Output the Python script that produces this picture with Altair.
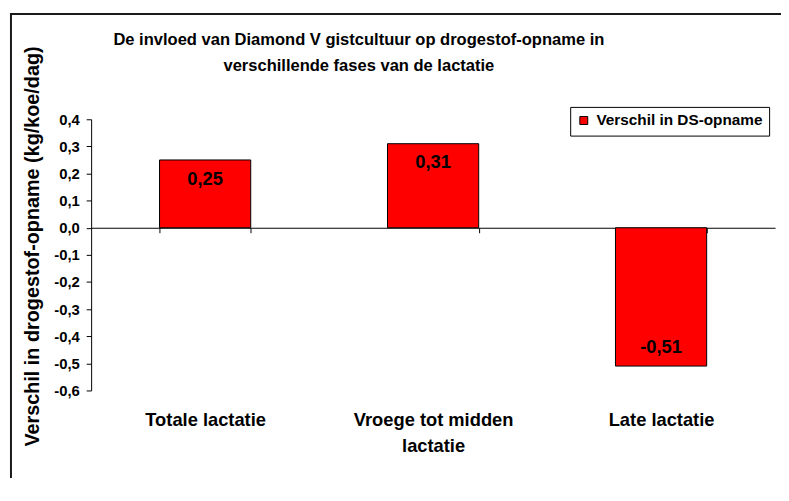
import altair as alt
import pandas as pd

# ---- data ----
categories = ["Totale lactatie", "Vroege tot midden\nlactatie", "Late lactatie"]
values = [0.25, 0.31, -0.51]
series_name = "Verschil in DS-opname"
y_ticks = [-0.6, -0.5, -0.4, -0.3, -0.2, -0.1, 0.0, 0.1, 0.2, 0.3, 0.4]
title_lines = [
    "De invloed van Diamond V gistcultuur op drogestof-opname in",
    "verschillende fases van de lactatie",
]
y_title = "Verschil in drogestof-opname (kg/koe/dag)"

df = pd.DataFrame({"fase": categories, "verschil": values, "reeks": series_name})

FONT = "Liberation Sans"
W, H = 691, 274
ZERO_FROM_BOTTOM = H * 0.6 / 1.0

x_enc = alt.X(
    "fase:N",
    sort=categories,
    scale=alt.Scale(paddingInner=0.6, paddingOuter=0.3),
    axis=alt.Axis(
        title=None,
        orient="bottom",
        offset=-ZERO_FROM_BOTTOM,
        domainColor="black",
        domainWidth=1,
        tickColor="black",
        tickSize=5,
        tickBand="extent",
        labelAngle=0,
        labelFont=FONT,
        labelFontSize=18.5,
        labelFontWeight="bold",
        labelColor="black",
        labelPadding=180,
        labelLimit=300,
        labelLineHeight=26,
        labelOverlap=False,
        labelExpr="split(datum.label, '\\n')",
        grid=False,
    ),
)

y_enc = alt.Y(
    "verschil:Q",
    scale=alt.Scale(domain=[-0.6, 0.4], nice=False),
    axis=alt.Axis(
        values=y_ticks,
        tickCount=11,
        labelExpr="replace(replace(format(datum.value, '.1f'), '.', ','), '\u2212', '-')",
        labelOverlap=False,
        labelBound=False,
        grid=False,
        domainColor="black",
        tickColor="black",
        tickSize=5,
        labelPadding=7,
        labelFont=FONT,
        labelFontSize=15,
        labelFontWeight="bold",
        labelColor="black",
        title=y_title,
        titleFont=FONT,
        titleFontSize=20,
        titleFontWeight="bold",
        titleColor="black",
        titleAngle=270,
        titleX=-59,
        titleY=128,
        titleAlign="center",
        titleBaseline="middle",
    ),
)

base = alt.Chart(df).transform_calculate(
    label="replace(replace(format(datum.verschil, '.2f'), '.', ','), '\u2212', '-')"
)

bars = base.mark_bar(stroke="black", strokeWidth=1).encode(
    x=x_enc,
    y=y_enc,
    color=alt.Color(
        "reeks:N",
        scale=alt.Scale(range=["#FF0000"]),
        legend=alt.Legend(
            title=None,
            orient="none",
            legendX=484,
            legendY=-12.5,
            strokeColor="black",
            fillColor="white",
            padding=6,
            labelFont=FONT,
            labelFontSize=15.5,
            labelFontWeight="bold",
            labelColor="black",
            labelOffset=5,
            labelLimit=300,
            symbolType="square",
            symbolSize=64,
            symbolStrokeColor="black",
            symbolStrokeWidth=1,
            symbolFillColor="#FF0000",
        ),
    ),
)

text_style = dict(baseline="middle", align="center", font=FONT, fontSize=18.5,
                  fontWeight="bold", color="black")

pos_labels = base.mark_text(dy=19, **text_style).encode(
    x=x_enc, y=y_enc, text="label:N"
).transform_filter("datum.verschil >= 0")

neg_labels = base.mark_text(dy=-19, **text_style).encode(
    x=x_enc, y=y_enc, text="label:N"
).transform_filter("datum.verschil < 0")

frame_df = pd.DataFrame({"k": [0]})
frame_top = alt.Chart(frame_df).mark_rule(color="#1a1a1a", strokeWidth=2).encode(
    x=alt.value(-81), x2=alt.value(697), y=alt.value(-106.3)
)
frame_left = alt.Chart(frame_df).mark_rule(color="#1a1a1a", strokeWidth=2).encode(
    x=alt.value(-81), y=alt.value(-107.3), y2=alt.value(400)
)

chart = alt.layer(bars, pos_labels, neg_labels, frame_top, frame_left).properties(
    width=W,
    height=H,
    autosize=alt.AutoSizeParams(type="none"),
    padding={"left": 84, "top": 110, "right": 6, "bottom": 86},
    title=alt.TitleParams(
        text=title_lines,
        anchor="middle",
        dx=-75,
        dy=63,
        font=FONT,
        fontSize=16.7,
        fontWeight="bold",
        color="black",
        lineHeight=26,
        offset=0,
    ),
).configure(
    font=FONT, background="white"
).configure_view(stroke="transparent")

chart.save("out.html", embed_options={"renderer": "svg", "actions": False})
